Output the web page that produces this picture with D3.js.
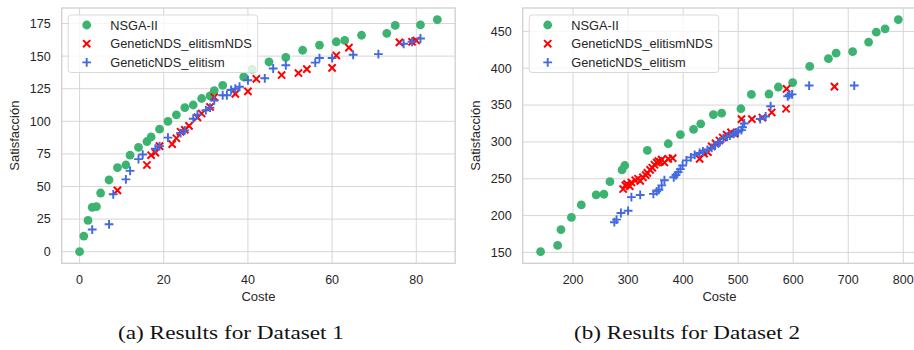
<!DOCTYPE html>
<html lang="en">
  <head>
    <meta charset="UTF-8" />
    <title>NSGA-II vs GeneticNDS</title>
    <script src="https://d3js.org/d3.v7.min.js"></script>
    <style>
      body {
        margin: 0;
        background: #fff;
      }
      svg text {
        font-family: 'Liberation Sans', Arial, sans-serif;
        fill: #262626;
      }
      .grid line {
        stroke: #d6d6d6;
        stroke-width: 1;
      }
      .caption {
        font-family: 'Liberation Serif', 'Times New Roman', serif !important;
        fill: #111 !important;
      }
    </style>
  </head>
  <body>
    <svg id="chart" width="914" height="350"></svg>
    <script>
      // Dataset 1 (coste, satisfaccion)
      const d1Nsga = [
        [0, 0], [1, 12], [2, 24], [3, 34], [4, 34.5], [5, 45], [7, 55], [9, 64.5],
        [11, 66.5], [12, 74], [14, 80], [16, 84.5], [17, 88], [19, 94], [21, 100],
        [23, 105], [25, 110.5], [27, 112.5], [29, 117.5], [31, 119.5], [32, 123.5],
        [34, 127.5], [39, 134], [41, 140], [45, 145.5], [49, 149], [53, 154.5],
        [57, 158.5], [61, 161], [63, 162], [67, 166], [73, 167.5], [75, 173.5],
        [81, 174], [85, 178]
      ];
      const d1ElitismNDS = [
        [9, 47], [16, 66.5], [17, 74], [18, 76], [19, 81], [22, 82.5], [23, 87],
        [24, 92], [25, 93.5], [26, 96.5], [28, 103], [29, 106], [31, 111],
        [32, 118.5], [37, 121], [40, 123], [42, 132.5], [48, 135.5], [52, 137],
        [54, 140], [60, 141], [61, 150.5], [64, 156.5], [76, 160.5], [79, 161],
        [80, 162]
      ];
      const d1Elitism = [
        [3, 17], [7, 21], [8, 44], [11, 55.5], [12, 62], [14, 71], [15, 74.5],
        [18, 79], [19, 81], [21, 87.5], [24, 91], [25, 93], [27, 102], [28, 105],
        [30, 108.5], [31, 110.5], [32, 116], [34, 120], [35, 120], [36, 124],
        [37, 125], [38, 126.5], [40, 131.5], [44, 133], [46, 140.5], [49, 143],
        [56, 145], [57, 148.5], [60, 148.5], [65, 151], [71, 151.5], [77, 159.5],
        [79, 161], [81, 163.5]
      ];

      // Dataset 2
      const d2Nsga = [
        [141, 151], [172, 159.5], [178, 181], [197, 197.5], [215, 214.5],
        [242, 228], [256, 229], [267, 246], [289, 262], [294, 268], [335, 288.5],
        [373, 297.5], [395, 310], [419, 317], [432, 324.5], [455, 337],
        [470, 339], [505, 345], [524, 364.5], [556, 365], [573, 374.5],
        [599, 380.5], [630, 402.5], [664, 413], [678, 420.5], [708, 422.5],
        [737, 435.5], [751, 449], [767, 453.5], [791, 466]
      ];
      const d2ElitismNDS = [
        [291, 236], [295, 241], [298, 243], [303, 240], [306, 245], [313, 248],
        [318, 250], [322, 247], [327, 252], [332, 255], [335, 258], [340, 262],
        [344, 265], [348, 269], [352, 272], [355, 274], [358, 273], [361, 276],
        [366, 272], [373, 277], [381, 278], [430, 277], [438, 284], [445, 286],
        [452, 294], [459, 298], [466, 302], [472, 306], [479, 310], [487, 313],
        [494, 311], [506, 331], [525, 331], [544, 333], [561, 340], [587, 345],
        [588, 372], [675, 375]
      ];
      const d2Elitism = [
        [275, 191], [279, 194.5], [287, 203.5], [300, 206.5], [306, 225],
        [322, 228], [346, 229.5], [352, 233], [356, 235], [361, 241], [366, 248],
        [383, 252], [387, 255], [391, 259], [395, 263], [399, 268], [406, 275],
        [414, 279], [421, 282.5], [430, 285], [436, 287], [444, 289], [452, 292],
        [458, 295], [464, 298], [467, 300], [473, 305], [480, 307], [485, 308.5],
        [492, 311], [496, 313], [500, 314], [506, 316], [508, 320], [511, 325],
        [540, 331], [550, 334.5], [559, 348.5], [590, 362], [593, 364],
        [598, 364.5], [629, 376.5], [711, 376.5]
      ];

      const seriesNames = ['NSGA-II', 'GeneticNDS_elitismNDS', 'GeneticNDS_elitism'];
      const seriesColors = ['#3cb371', '#ff0000', '#4169e1'];
      const d1XTicks = [0, 20, 40, 60, 80];
      const d1YTicks = [0, 25, 50, 75, 100, 125, 150, 175];
      const d2XTicks = [200, 300, 400, 500, 600, 700, 800];
      const d2YTicks = [150, 200, 250, 300, 350, 400, 450];
      const captions = ['(a) Results for Dataset 1', '(b) Results for Dataset 2'];

      const svg = d3.select('#chart');
      svg.append('rect').attr('width', 914).attr('height', 350).attr('fill', '#fff');

      const plotW = 393.5;
      const plotTop = 8;
      const plotBottom = 263.3;

      // matplotlib-like 5% padding around the data
      function padded(ext) {
        const m = (ext[1] - ext[0]) * 0.05;
        return [ext[0] - m, ext[1] + m];
      }

      function drawMarker(g, type, color) {
        if (type === 0) {
          g.append('circle').attr('r', 4.4).attr('fill', color);
        } else if (type === 1) {
          const s = 3.6;
          g.append('path')
            .attr('d', `M${-s},${-s}L${s},${s}M${-s},${s}L${s},${-s}`)
            .attr('stroke', color)
            .attr('stroke-width', 2)
            .attr('fill', 'none');
        } else {
          const s = 4.4;
          g.append('path')
            .attr('d', `M${-s},0L${s},0M0,${-s}L0,${s}`)
            .attr('stroke', color)
            .attr('stroke-width', 1.9)
            .attr('fill', 'none');
        }
      }

      function drawPanel(x0, series, xTicks, yTicks, caption, capX) {
        const all = series.flat();
        const x = d3
          .scaleLinear()
          .domain(padded(d3.extent(all, (d) => d[0])))
          .range([x0, x0 + plotW]);
        const y = d3
          .scaleLinear()
          .domain(padded(d3.extent(all, (d) => d[1])))
          .range([plotBottom, plotTop]);

        const g = svg.append('g');

        // grid
        const grid = g.append('g').attr('class', 'grid');
        grid
          .selectAll('.gx')
          .data(xTicks)
          .join('line')
          .attr('x1', (d) => x(d))
          .attr('x2', (d) => x(d))
          .attr('y1', plotTop)
          .attr('y2', plotBottom);
        grid
          .selectAll('.gy')
          .data(yTicks)
          .join('line')
          .attr('x1', x0)
          .attr('x2', x0 + plotW)
          .attr('y1', (d) => y(d))
          .attr('y2', (d) => y(d));

        // frame
        g.append('rect')
          .attr('x', x0)
          .attr('y', plotTop)
          .attr('width', plotW)
          .attr('height', plotBottom - plotTop)
          .attr('fill', 'none')
          .attr('stroke', '#cfcfcf')
          .attr('stroke-width', 1.3);

        // tick labels
        g.selectAll('.xt')
          .data(xTicks)
          .join('text')
          .attr('x', (d) => x(d))
          .attr('y', 284)
          .attr('text-anchor', 'middle')
          .attr('font-size', 12.5)
          .text((d) => d);
        g.selectAll('.yt')
          .data(yTicks)
          .join('text')
          .attr('x', x0 - 11)
          .attr('y', (d) => y(d) + 4.4)
          .attr('text-anchor', 'end')
          .attr('font-size', 12.5)
          .text((d) => d);

        // axis labels
        g.append('text')
          .attr('x', x0 + plotW / 2)
          .attr('y', 301)
          .attr('text-anchor', 'middle')
          .attr('font-size', 13)
          .text('Coste');
        g.append('text')
          .attr('transform', `translate(${x0 - 43},${(plotTop + plotBottom) / 2}) rotate(-90)`)
          .attr('text-anchor', 'middle')
          .attr('font-size', 13)
          .text('Satisfacción');

        // points
        series.forEach((data, i) => {
          g.append('g')
            .selectAll('g')
            .data(data)
            .join('g')
            .attr('transform', (d) => `translate(${x(d[0])},${y(d[1])})`)
            .each(function () {
              drawMarker(d3.select(this), i, seriesColors[i]);
            });
        });

        // legend
        const lg = g.append('g').attr('transform', `translate(${x0 + 6.5},15)`);
        lg.append('rect')
          .attr('width', 189.5)
          .attr('height', 57.5)
          .attr('rx', 3)
          .attr('fill', 'rgba(255,255,255,0.8)')
          .attr('stroke', '#d9d9d9');
        seriesNames.forEach((name, i) => {
          const row = lg.append('g').attr('transform', `translate(18.5,${10 + i * 18.7})`);
          drawMarker(row.append('g'), i, seriesColors[i]);
          row.append('text')
            .attr('x', 23.5)
            .attr('y', 4.5)
            .attr('font-size', 12.8)
            .text(name);
        });

        // caption
        svg.append('text')
          .attr('class', 'caption')
          .attr('x', capX)
          .attr('y', 339)
          .attr('text-anchor', 'middle')
          .attr('font-size', 19.5)
          .attr('textLength', 226)
          .attr('lengthAdjust', 'spacingAndGlyphs')
          .text(caption);
      }

      drawPanel(61.7, [d1Nsga, d1ElitismNDS, d1Elitism], d1XTicks, d1YTicks, captions[0], 231);
      drawPanel(522.7, [d2Nsga, d2ElitismNDS, d2Elitism], d2XTicks, d2YTicks, captions[1], 687);
    </script>
  </body>
</html>
